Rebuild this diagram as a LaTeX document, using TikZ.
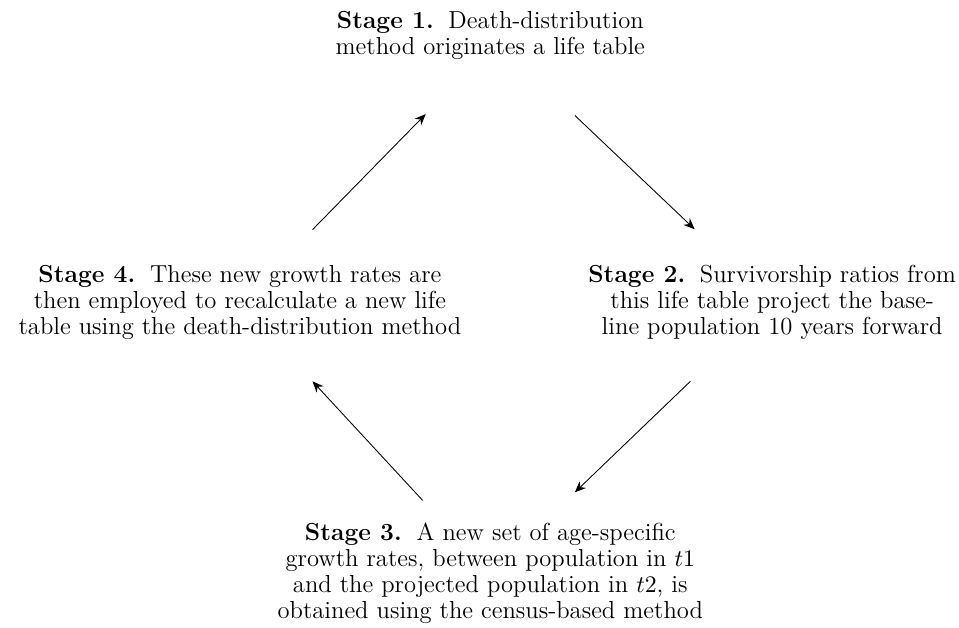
\documentclass[tikz,border=0pt]{standalone}
\usetikzlibrary{arrows.meta, calc}
\newcommand{\stagelabel}[1]{\textbf{Stage #1.}\hspace{0.6em}}
\tikzset{
  stage/.style={align=center, inner sep=0pt, font=\fontsize{11.35}{12}\selectfont},
  cyc/.style={-{Stealth[length=1.8mm, width=1.5mm]}, line width=0.4pt},
}

\begin{document}
\begin{tikzpicture}
  \useasboundingbox (0,0) rectangle (15.55,-10.17);
  \node[stage] (s1) at (7.95,-0.57) {\stagelabel{1}Death-distribution\\method originates a life table};
  \node[stage] (s2) at (12.52,-4.91) {\stagelabel{2}Survivorship ratios from\\this life table project the base-\\line population 10 years forward};
  \node[stage] (s3) at (7.95,-9.30) {\stagelabel{3}A new set of age-specific\\growth rates, between population in $t1$\\and the projected population in $t2$, is\\obtained using the census-based method};
  \node[stage] (s4) at (3.89,-4.91) {\stagelabel{4}These new growth rates are\\then employed to recalculate a new life\\table using the death-distribution method};
  % the cycle
  \draw[cyc] ($(s1)!.30!(s2)$) -- ($(s1)!.725!(s2)$);
  \draw[cyc] ($(s2)!.29!(s3)$) -- ($(s2)!.70!(s3)$);
  \draw[cyc] ($(s3)!.27!(s4)$) -- ($(s3)!.71!(s4)$);
  \draw[cyc] ($(s4)!.28!(s1)+(0.04,-0.03)$) -- ($(s4)!.705!(s1)+(0.15,0)$);
\end{tikzpicture}
\end{document}
